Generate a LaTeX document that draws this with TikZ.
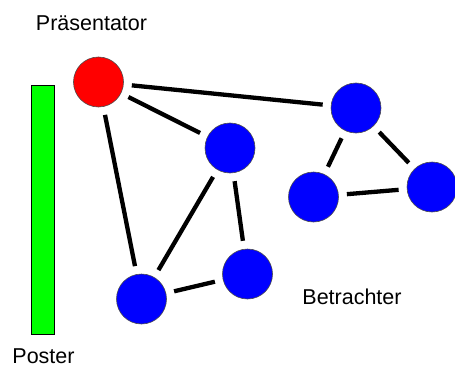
\documentclass[tikz,border=0pt]{standalone}
\usepackage{fontspec}
\setmainfont{Liberation Sans}
\begin{document}
\begin{tikzpicture}[x=1pt,y=-1pt,
  person/.style={circle,draw=black!70,line width=0.6pt,minimum size=50pt,inner sep=0pt,outer sep=0pt},
  viewer/.style={person,fill=blue},
  link/.style={line width=4.3pt,shorten >=8.5pt,shorten <=8.5pt},
  lbl/.style={font=\fontsize{21.5}{24}\selectfont,anchor=base,inner sep=0pt,text depth=0pt}]
\useasboundingbox (0,0) rectangle (455,369);
\node[draw=black,line width=0.8pt,fill=green,minimum width=23pt,minimum height=249pt,inner sep=0pt,anchor=north west] (poster) at (31,85) {};
\node[person,fill=red] (p) at (98.5,82) {};
\node[viewer] (b1) at (230,148) {};
\node[viewer] (b2) at (356,108) {};
\node[viewer] (b3) at (313.5,197) {};
\node[viewer] (b4) at (432,187) {};
\node[viewer] (b5) at (141.5,299) {};
\node[viewer] (b6) at (247.5,274) {};
\draw[link] (p) -- (b2);
\draw[link] (p) -- (b1);
\draw[link] (p) -- (b5);
\draw[link] (b1) -- (b5);
\draw[link] (b1) -- (b6);
\draw[link] (b5) -- (b6);
\draw[link] (b2) -- (b3);
\draw[link] (b2) -- (b4);
\draw[link] (b3) -- (b4);
\node[lbl] (tp) at (91.5,31) {Präsentator};
\node[lbl] (tb) at (352,304) {Betrachter};
\node[lbl] (tposter) at (43.5,363) {Poster};
\end{tikzpicture}
\end{document}
